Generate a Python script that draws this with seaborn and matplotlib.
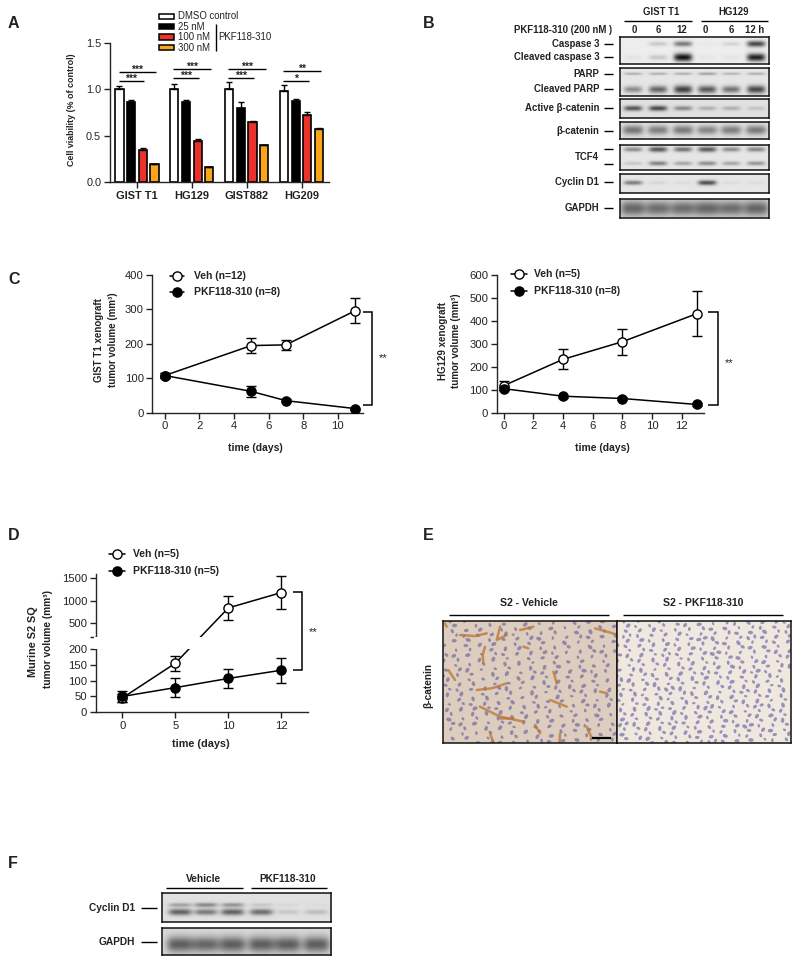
import matplotlib
matplotlib.use('Agg')
import matplotlib.pyplot as plt
from matplotlib.collections import EllipseCollection
from matplotlib.patches import Rectangle
import seaborn as sns
import numpy as np
import pandas as pd

W, H = 800, 964

# panel A
cell_lines = ['GIST T1', 'HG129', 'GIST882', 'HG209']
doses = ['DMSO control', '25 nM', '100 nM', '300 nM']
dose_colors = ['white', 'black', '#e8322a', '#f9a61a']
viability = [[1.00, 1.00, 1.00, 0.98],
             [0.86, 0.86, 0.80, 0.875],
             [0.35, 0.44, 0.645, 0.73],
             [0.20, 0.17, 0.40, 0.57]]
viability_err = [[0.04, 0.055, 0.085, 0.07],
                 [0.03, 0.03, 0.06, 0.02],
                 [0.015, 0.03, 0.02, 0.03],
                 [0.0, 0.0, 0.0, 0.02]]

# panel C left
c1_days = [0, 5, 7, 11]
c1_veh = [108, 195, 197, 296]
c1_veh_err = [6, 21, 14, 36]
c1_pkf = [108, 62, 35, 12]
c1_pkf_err = [6, 17, 5, 3]

# panel C right
c2_veh_days = [0, 4, 8, 13]
c2_veh = [118, 233, 310, 432]
c2_veh_err = [19, 44, 57, 98]
c2_pkf = [105, 72, 62, 36]
c2_pkf_err = [8, 6, 5, 5]

# panel D
d_days = ['0', '5', '10', '12']
d_veh = [45, 155, 838, 1175]
d_veh_err = [12, 23, 260, 360]
d_pkf = [50, 78, 107, 133]
d_pkf_err = [18, 29, 30, 39]
d_ticks = [0, 50, 100, 150, 200, 201, 500, 1000, 1500]
d_ticklabels = ['0', '50', '100', '150', '200', '', '500', '1000', '1500']

# western blots: darkness of a band in each lane
b_lanes = [0.087, 0.255, 0.423, 0.586, 0.747, 0.915]
f_lanes = [0.106, 0.258, 0.415, 0.585, 0.74, 0.909]
caspase = [0.0, 0.15, 0.45, 0.02, 0.1, 0.65]
cleaved_caspase = [0.04, 0.15, 0.85, 0.03, 0.04, 0.8]
parp = [0.22, 0.22, 0.22, 0.28, 0.2, 0.22]
cleaved_parp = [0.35, 0.5, 0.65, 0.55, 0.45, 0.62]
active_catenin = [0.55, 0.6, 0.35, 0.2, 0.2, 0.12]
total_catenin = [0.42, 0.38, 0.4, 0.35, 0.38, 0.4]
tcf4_upper = [0.35, 0.55, 0.45, 0.55, 0.35, 0.38]
tcf4_lower = [0.12, 0.4, 0.25, 0.35, 0.25, 0.32]
cyclin_b = [0.42, 0.06, 0.04, 0.6, 0.04, 0.04]
gapdh_b = [0.45, 0.42, 0.42, 0.45, 0.42, 0.45]
cyclin_f_upper = [0.25, 0.35, 0.3, 0.1, 0.04, 0.02]
cyclin_f_lower = [0.5, 0.4, 0.5, 0.45, 0.1, 0.14]
gapdh_f = [0.48, 0.45, 0.48, 0.48, 0.48, 0.48]

# panel E: stained streaks in the vehicle section
brown_streaks = [[(180, 345), (225, 348), (260, 340)], [(300, 320), (290, 360), (320, 345)],
                 [(360, 330), (400, 320)], [(585, 325), (645, 342)],
                 [(255, 380), (248, 405), (250, 430)], [(370, 380), (385, 385)],
                 [(145, 450), (165, 480)], [(460, 455), (470, 490)],
                 [(230, 510), (275, 505), (320, 490)], [(240, 560), (300, 590), (370, 605)],
                 [(300, 595), (340, 595)], [(450, 540), (500, 560)],
                 [(560, 620), (575, 655)], [(480, 640), (478, 668)],
                 [(405, 615), (420, 640)], [(270, 640), (280, 668)],
                 [(600, 515), (620, 520)], [(135, 310), (140, 320)]]

sns.set_theme(style='ticks')
plt.rcParams['font.family'] = ['Liberation Sans', 'DejaVu Sans']
plt.rcParams['text.color'] = '#222222'
plt.rcParams['axes.labelcolor'] = '#222222'
plt.rcParams['xtick.color'] = '#222222'
plt.rcParams['ytick.color'] = '#222222'

fig = plt.figure(figsize=(8, 9.64), dpi=100)


def px_axes(left, top, right, bottom):
    return fig.add_axes([left / W, 1 - bottom / H, (right - left) / W, (bottom - top) / H])


def style_axes(ax, size=8.1):
    sns.despine(ax=ax)
    ax.spines['left'].set_linewidth(1.0)
    ax.spines['bottom'].set_linewidth(1.0)
    ax.tick_params(length=4, width=1.0, labelsize=size, pad=2)
    ax.set_xlabel('')
    ax.set_ylabel('')
    ax.patch.set_alpha(0)


def draw_series(ax, x, y, err, filled):
    face = 'black' if filled else 'white'
    z = 4 if filled else 3
    ax.errorbar(x, y, yerr=err, fmt='none', ecolor='black', elinewidth=1.0,
                capsize=3.6, capthick=1.0, zorder=z)
    sns.lineplot(x=x, y=y, color='black', linewidth=1.1, marker='o', markersize=6.6,
                 markerfacecolor=face, markeredgecolor='black', markeredgewidth=1.0,
                 errorbar=None, sort=False, zorder=z, ax=ax)


# --- panel A
ax_a = px_axes(109.5, 43, 329, 182.3)
rows = []
for d, vals in zip(doses, viability):
    for c, v in zip(cell_lines, vals):
        rows.append({'line': c, 'dose': d, 'viability': v})
df_a = pd.DataFrame(rows)
sns.barplot(data=df_a, x='line', y='viability', hue='dose', palette=dose_colors,
            width=0.85, gap=0.3, saturation=1, edgecolor='black', linewidth=1.2, legend=False,
            errorbar=None, ax=ax_a)
for cont, errs in zip(ax_a.containers, viability_err):
    xs = [b.get_x() + b.get_width() / 2 for b in cont]
    ys = [b.get_height() for b in cont]
    ax_a.errorbar(xs, ys, yerr=[[0] * len(errs), errs], fmt='none', ecolor='black',
                  elinewidth=1.0, capsize=2.2, capthick=1.0)
ax_a.set_xlim(-0.5, 3.5)
ax_a.set_ylim(0, 1.5)
ax_a.set_yticks([0, 0.5, 1.0, 1.5])
ax_a.set_yticklabels(['0.0', '0.5', '1.0', '1.5'])
style_axes(ax_a, 7.8)
ax_a.tick_params(axis='x', labelsize=7.9)
for lab in ax_a.get_xticklabels():
    lab.set_fontweight('bold')

# --- panel C left
ax_c1 = px_axes(152.3, 275, 363, 412.7)
draw_series(ax_c1, c1_days, c1_veh, c1_veh_err, False)
draw_series(ax_c1, c1_days, c1_pkf, c1_pkf_err, True)
ax_c1.set_xlim(-0.717, 11.46)
ax_c1.set_ylim(0, 400)
ax_c1.set_xticks(range(0, 11, 2))
ax_c1.set_yticks([0, 100, 200, 300, 400])
style_axes(ax_c1)

# --- panel C right
ax_c2 = px_axes(496.7, 275.3, 704, 412.7)
draw_series(ax_c2, c2_veh_days, c2_veh, c2_veh_err, False)
draw_series(ax_c2, c2_veh_days, c2_pkf, c2_pkf_err, True)
ax_c2.set_xlim(-0.47, 13.5)
ax_c2.set_ylim(0, 600)
ax_c2.set_xticks(range(0, 13, 2))
ax_c2.set_yticks(range(0, 601, 100))
style_axes(ax_c2)

# --- panel D, y axis broken between 200 and 201
ax_d = px_axes(95.7, 574, 308, 712.3)
d_pos = list(range(len(d_days)))
draw_series(ax_d, d_pos, d_veh, d_veh_err, False)
draw_series(ax_d, d_pos, d_pkf, d_pkf_err, True)
break_in = [0, 200, 201, 1581]
break_out = [0, 63.3, 75.3, 138.3]
ax_d.set_yscale('function', functions=(lambda v: np.interp(v, break_in, break_out),
                                       lambda v: np.interp(v, break_out, break_in)))
ax_d.set_xlim(-0.5, 3.5)
ax_d.set_ylim(0, 1581)
ax_d.set_xticks(d_pos)
ax_d.set_xticklabels(d_days)
ax_d.set_yticks(d_ticks)
ax_d.set_yticklabels(d_ticklabels)
ax_d.minorticks_off()
style_axes(ax_d)
ax_d.add_patch(Rectangle((-0.01, 200), 1.02, 1, transform=ax_d.get_yaxis_transform(),
                         facecolor='white', edgecolor='none', zorder=6, clip_on=False))


# --- blots
def blot(left, top, right, bottom, lanes, bands, bg=0.93, half=0.062):
    ax = px_axes(left, top, right, bottom)
    nx, ny = int((right - left) * 2), int((bottom - top) * 2)
    xx, yy = np.meshgrid(np.linspace(0, 1, nx), np.linspace(0, 1, ny))
    img = np.full((ny, nx), bg, dtype=float)
    for y0, thick, vals in bands:
        for c, v in zip(lanes, vals):
            t = thick * (0.65 + 0.6 * v)
            img -= v * np.exp(-((xx - c) / half) ** 4) * np.exp(-((yy - y0) / t) ** 2)
    ax.imshow(np.clip(img, 0.05, 1), cmap='gray', vmin=0, vmax=1, aspect='auto',
              interpolation='bilinear')
    ax.set_xticks([])
    ax.set_yticks([])
    for s in ax.spines.values():
        s.set_linewidth(1.1)
        s.set_color('#111111')


blot(620.3, 37, 769.3, 63.7, b_lanes, [(0.25, 0.11, caspase), (0.76, 0.13, cleaved_caspase)])
blot(620.3, 68.3, 769.3, 95.7, b_lanes, [(0.2, 0.06, parp), (0.77, 0.14, cleaved_parp)], bg=0.9)
blot(620.3, 99, 769.3, 118, b_lanes, [(0.49, 0.14, active_catenin)], bg=0.88)
blot(620.3, 122.3, 769.3, 139.3, b_lanes, [(0.5, 0.3, total_catenin)], bg=0.88, half=0.07)
blot(620.3, 145.3, 769.3, 170, b_lanes, [(0.17, 0.11, tcf4_upper), (0.74, 0.1, tcf4_lower)], bg=0.9)
blot(620.3, 173.7, 769.3, 192.7, b_lanes, [(0.46, 0.13, cyclin_b)], bg=0.9)
blot(620.3, 198.7, 769.3, 218.3, b_lanes, [(0.52, 0.42, gapdh_b)], bg=0.85, half=0.085)
blot(162, 893.3, 331.3, 922, f_lanes, [(0.41, 0.09, cyclin_f_upper), (0.66, 0.12, cyclin_f_lower)],
     bg=0.88, half=0.068)
blot(162, 928, 331.3, 954.7, f_lanes, [(0.61, 0.32, gapdh_f)], bg=0.85, half=0.08)


# --- panel E, stand-in for the micrographs: evenly spread nuclei, no measured values
def section(left, right, count, tissue, nucleus, x0, x1):
    ax = px_axes(left, 620.7, right, 743.3)
    ax.set_facecolor(tissue)
    ax.set_xlim(x0, x1)
    ax.set_ylim(670, 302)
    idx = np.arange(1, count + 1)
    px = x0 + (idx * 0.7548777 % 1) * (x1 - x0)
    py = 302 + (idx * 0.5698403 % 1) * 368
    ang = 35 * np.sin(px / 70) + 40 * np.cos(py / 55) + 70 * np.sin(idx * 2.4)
    sizes = 4.5 + 3 * (idx * 0.381966 % 1)
    ax.add_collection(EllipseCollection(sizes * 2.2, sizes * 1.5, ang, units='xy',
                                        offsets=np.column_stack([px, py]),
                                        offset_transform=ax.transData,
                                        facecolors=nucleus, edgecolors='none', alpha=0.7))
    ax.set_xticks([])
    ax.set_yticks([])
    for s in ax.spines.values():
        s.set_linewidth(1.1)
        s.set_color('#111111')
    return ax


ax_e1 = section(443, 616.5, 290, '#dccdbf', '#75689f', 129, 649)
for st in brown_streaks:
    xs, ys = zip(*st)
    ax_e1.plot(xs, ys, color='#bd7433', lw=1.8, alpha=0.75, solid_capstyle='round')
ax_e2 = section(616.5, 790.7, 370, '#f0e8de', '#6f6fae', 650, 1172)

# --- text and annotation layer, in reference pixels
ov = fig.add_axes([0, 0, 1, 1], zorder=10)
ov.set_xlim(0, W)
ov.set_ylim(H, 0)
ov.axis('off')


def txt(x, y, s, size=7.0, bold=True, ha='center', va='center', rotation=0, color='#222222'):
    ov.text(x, y, s, fontsize=size, fontweight='bold' if bold else 'normal', ha=ha, va=va,
            rotation=rotation, color=color)


def seg(xs, ys, lw=1.0, color='black'):
    ov.plot(xs, ys, color=color, lw=lw, solid_capstyle='butt', solid_joinstyle='miter')


# panel letters
for s, x, y in [('A', 8, 24), ('B', 423, 23.5), ('C', 8, 280), ('D', 8, 535.7), ('E', 423, 535.7), ('F', 8, 863)]:
    txt(x, y, s, size=11.5, ha='left')

# A annotations
txt(72, 110, 'Cell viability (% of control)', size=6.4, rotation=90)
for y, color, label in zip([16.3, 26.7, 37, 47.7], dose_colors, doses):
    ov.add_patch(Rectangle((158.7, y - 2.6), 15.3, 5.2, facecolor=color, edgecolor='black', lw=1.1))
    txt(178, y, label, size=6.9, bold=False, ha='left')
seg([215.7, 215.7], [24, 50.7])
txt(218.7, 36.7, 'PKF118-310', size=6.9, bold=False, ha='left')
sig_a = [(118.7, 72, 81.3, '***', '***'), (173.3, 69, 78.3, '***', '***'),
         (228.3, 69, 78.3, '***', '***'), (283.3, 71.3, 81, '**', '*')]
for x0, y_hi, y_lo, s_hi, s_lo in sig_a:
    seg([x0, x0 + 37.3], [y_hi, y_hi])
    seg([x0, x0 + 25.7], [y_lo, y_lo])
    txt(x0 + 18.6, y_hi - 2, s_hi, size=7.5, va='center')
    txt(x0 + 12.8, y_lo - 2, s_lo, size=7.5, va='center')


def legend(xm, x0, x1, ys, tx, labels):
    for y, face, label in zip(ys, ['white', 'black'], labels):
        ov.plot([x0, x1], [y, y], color='black', lw=1.1)
        ov.plot([xm], [y], 'o', ms=6.6, mfc=face, mec='black', mew=1.0)
        txt(tx, y, label, size=7.5, ha='left')


def bracket(x0, x1, y0, y1, star_x, star_y):
    seg([x0, x1, x1, x0], [y0, y0, y1, y1], lw=1.1)
    txt(star_x, star_y, '**', size=8, bold=False)


# C and D annotations
legend(177, 170, 184, [276.3, 292.3], 194, ['Veh (n=12)', 'PKF118-310 (n=8)'])
txt(99, 340, 'GIST T1 xenograft', rotation=90)
txt(112.7, 340, 'tumor volume (mm³)', rotation=90)
txt(255, 448, 'time (days)', size=7.5)
bracket(362.7, 372.3, 312, 405, 383, 358)

legend(519, 510.7, 526.7, [273.7, 291], 534, ['Veh (n=5)', 'PKF118-310 (n=8)'])
txt(442.7, 341, 'HG129 xenograft', rotation=90)
txt(456, 341, 'tumor volume (mm³)', rotation=90)
txt(602, 448, 'time (days)', size=7.5)
bracket(708, 717.7, 311.7, 405, 729, 363)

legend(117.3, 108.5, 125, [553.7, 570.7], 132.7, ['Veh (n=5)', 'PKF118-310 (n=5)'])
txt(33.3, 641.7, 'Murine S2 SQ', size=7.8, rotation=90)
txt(47.7, 639, 'tumor volume (mm³)', size=7.3, rotation=90)
txt(201, 744, 'time (days)', size=7.8)
bracket(292.7, 301.7, 591.7, 670.3, 312.7, 631.7)

# B annotations
txt(660.7, 12, 'GIST T1', size=6.9)
txt(733.3, 12, 'HG129', size=6.9)
seg([623.7, 692], [20.7, 20.7])
seg([701, 767.7], [20.7, 20.7])
txt(612, 30, 'PKF118-310 (200 nM )', size=6.9, ha='right')
for x, s in zip([634, 658.3, 682, 705.3, 731, 755], ['0', '6', '12', '0', '6', '12 h']):
    txt(x, 30, s, size=6.9)
row_labels = [('Caspase 3', 43.7), ('Cleaved caspase 3', 57), ('PARP', 73.7), ('Cleaved PARP', 89.3),
              ('Active β-catenin', 108.3), ('β-catenin', 130.7), ('Cyclin D1', 182.3), ('GAPDH', 208.3)]
for s, y in row_labels:
    txt(599.3, y, s, size=6.9, ha='right')
    seg([604, 613.3], [y, y])
txt(599.3, 156.7, 'TCF4', size=6.9, ha='right')
seg([604, 613.3], [149, 149])
seg([604, 613.3], [163.7, 163.7])

# E annotations
txt(529, 603.3, 'S2 - Vehicle', size=7.6)
txt(703.3, 603.3, 'S2 - PKF118-310', size=7.6)
seg([449, 609], [615, 615])
seg([623.3, 782.7], [615, 615])
txt(428.3, 685, 'β-catenin', size=7.3, rotation=90)
seg([591.7, 611], [737.7, 737.7], lw=1.6)

# F annotations
txt(203, 879, 'Vehicle', size=7.3)
txt(288, 879, 'PKF118-310', size=7.3)
seg([166, 243.3], [888, 888])
seg([251, 326.7], [888, 888])
txt(135, 908, 'Cyclin D1', size=7.3, ha='right')
seg([141, 156.7], [908, 908])
txt(135, 941.7, 'GAPDH', size=7.3, ha='right')
seg([141, 156.7], [941.7, 941.7])

fig.savefig('out.png', dpi=100)
